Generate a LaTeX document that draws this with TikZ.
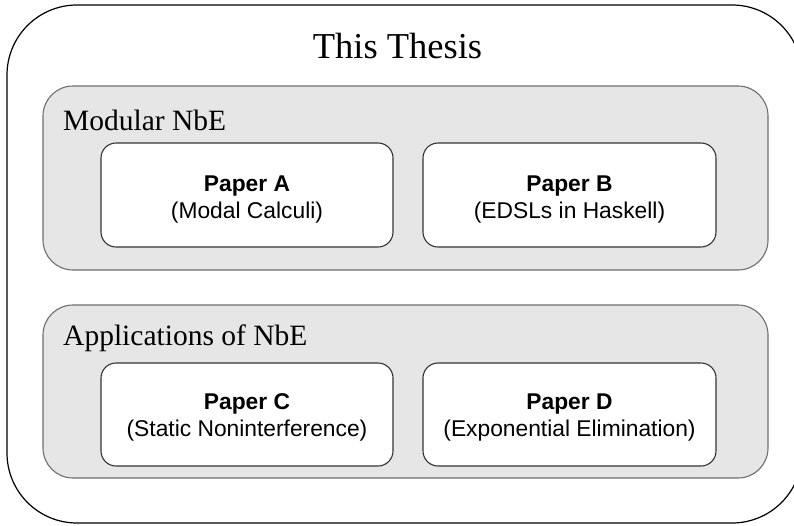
\documentclass[tikz,border=0pt]{standalone}
\usepackage{fontspec}
\setmainfont{Liberation Serif}
\newfontfamily\arialf{Liberation Sans}
\usetikzlibrary{calc}
\definecolor{groupfill}{HTML}{E6E6E6}
\definecolor{groupline}{HTML}{6E6E6E}
\definecolor{paperline}{HTML}{333333}
\tikzset{
  outerbox/.style={draw=black, line width=1.2pt, rounded corners=70pt, fill=white},
  groupbox/.style={draw=groupline, line width=1.1pt, fill=groupfill, rounded corners=30pt},
  paperbox/.style={draw=paperline, line width=1.1pt, fill=white, rounded corners=15pt},
  grouplabel/.style={anchor=base west, inner sep=0pt, font=\fontsize{29.5pt}{32pt}\selectfont},
  titlelabel/.style={anchor=base, inner sep=0pt, font=\fontsize{36.5pt}{40pt}\selectfont},
  papername/.style={anchor=base, inner sep=0pt, font=\arialf\bfseries\fontsize{22.8pt}{25pt}\selectfont},
  papersub/.style={anchor=base, inner sep=0pt, font=\arialf\fontsize{22.8pt}{25pt}\selectfont},
}
\begin{document}
\begin{tikzpicture}[x=1pt,y=-1pt]
\useasboundingbox (0,0) rectangle (794,525);
\draw[outerbox] (7,5) rectangle (802,523);
\node[titlelabel] (title) at (397.5,58) {This Thesis};

\draw[groupbox] (43,86) rectangle (768,270);
\node[grouplabel] (g1) at (63,130) {Modular NbE};
\draw[groupbox] (43,305) rectangle (768,478);
\node[grouplabel] (g2) at (63,345) {Applications of NbE};

\draw[paperbox] (101,143) rectangle (393,247) coordinate[pos=0.5] (pa);
\draw[paperbox] (423,143) rectangle (716,247) coordinate[pos=0.5] (pb);
\draw[paperbox] (101,363) rectangle (393,466) coordinate[pos=0.5] (pc);
\draw[paperbox] (423,363) rectangle (716,466) coordinate[pos=0.5] (pd);

\node[papername] (pa-n) at ($(pa)+(0,-3.5)$) {Paper A};
\node[papersub]  (pa-s) at ($(pa)+(0,23.5)$) {(Modal Calculi)};
\node[papername] (pb-n) at ($(pb)+(0,-3.5)$) {Paper B};
\node[papersub]  (pb-s) at ($(pb)+(0,23.5)$) {(EDSLs in Haskell)};
\node[papername] (pc-n) at ($(pc)+(0,-5.5)$) {Paper C};
\node[papersub]  (pc-s) at ($(pc)+(0,21.5)$) {(Static Noninterference)};
\node[papername] (pd-n) at ($(pd)+(0,-5.5)$) {Paper D};
\node[papersub]  (pd-s) at ($(pd)+(0,21.5)$) {(Exponential Elimination)};
\end{tikzpicture}
\end{document}
